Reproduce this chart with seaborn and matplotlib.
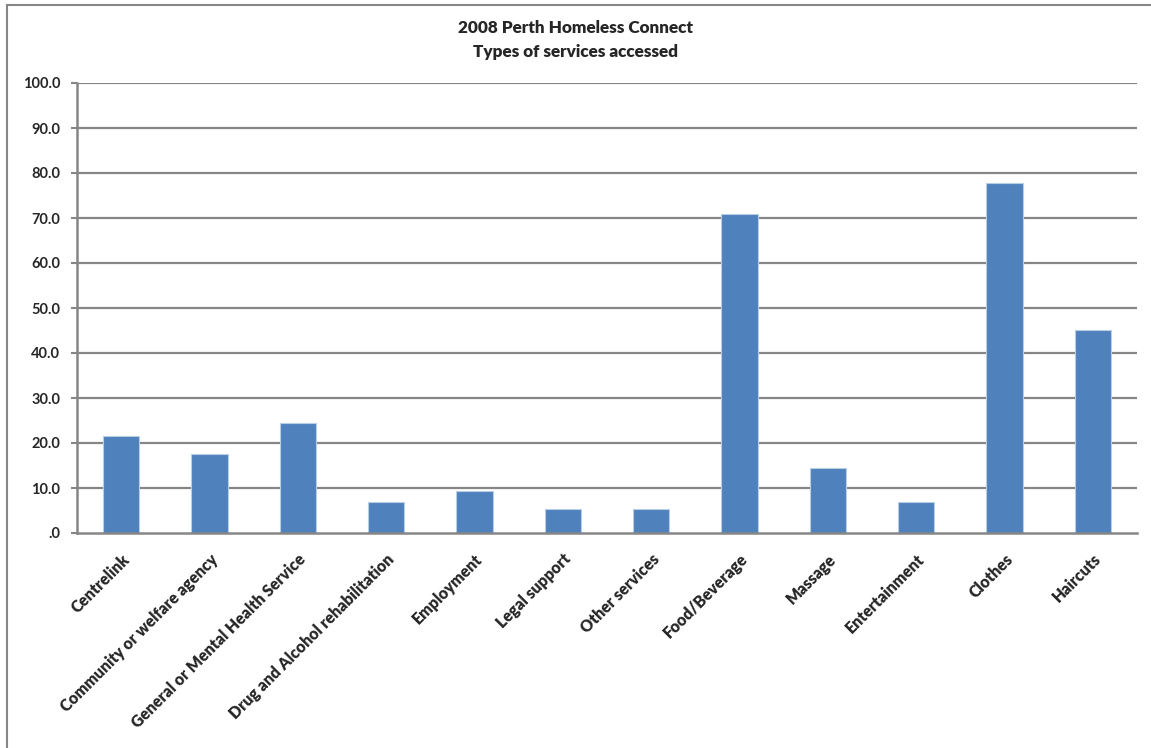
import matplotlib
matplotlib.use("Agg")
import matplotlib.pyplot as plt
import matplotlib.transforms as mtransforms
import seaborn as sns
import pandas as pd
from matplotlib.patches import Rectangle

categories = ["Centrelink", "Community or welfare agency", "General or Mental Health Service",
              "Drug and Alcohol rehabilitation", "Employment", "Legal support", "Other services",
              "Food/Beverage", "Massage", "Entertainment", "Clothes", "Haircuts"]
values = [21.5, 17.6, 24.4, 6.8, 9.3, 5.3, 5.3, 70.9, 14.4, 6.8, 77.7, 45.1]
yticks = [0, 10, 20, 30, 40, 50, 60, 70, 80, 90, 100]
ytick_labels = [".0", "10.0", "20.0", "30.0", "40.0", "50.0", "60.0", "70.0", "80.0", "90.0", "100.0"]
title = "2008 Perth Homeless Connect\nTypes of services accessed"

sns.set_theme(style="white")
plt.rcParams['font.family'] = ['Lato', 'DejaVu Sans']

df = pd.DataFrame({"cat": categories, "val": values})

fig = plt.figure(figsize=(11.51, 7.48), dpi=100)
ax = fig.add_axes([77/1151, 1-533/748, 1060/1151, 450/748])

sns.barplot(data=df, x="cat", y="val", color="#4F81BD", saturation=1, width=0.41,
            edgecolor="#B9CDE5", linewidth=0.8, ax=ax)

ax.set_ylim(0, 100)
ax.set_xlim(-0.5, len(categories) - 0.5)
ax.set_yticks(yticks)
ax.set_yticklabels(ytick_labels, fontsize=10.5, fontweight="bold")
for y in yticks[1:]:
    ax.axhline(y, color="#868686", linewidth=1.6, zorder=0)
ax.set_xticks(range(len(categories)))
ax.set_xticklabels(categories, rotation=45, ha="right", rotation_mode="anchor",
                   fontsize=11.4, fontweight="heavy")
offset = mtransforms.ScaledTranslation(-16/100, 0, fig.dpi_scale_trans)
for lab in ax.get_xticklabels():
    lab.set_transform(lab.get_transform() + offset)
ax.tick_params(axis="y", length=4, width=1.5, color="#868686", left=True, pad=8)
ax.tick_params(axis="x", length=0, pad=13)
ax.set_xlabel("")
ax.set_ylabel("")
for s in ["top", "right"]:
    ax.spines[s].set_visible(False)
for s in ["left", "bottom"]:
    ax.spines[s].set_color("#868686")
    ax.spines[s].set_linewidth(1.8)

fig.text(0.5, 1-40/748, title, ha="center", va="center", fontsize=12.3,
         fontweight="heavy", linespacing=1.6)

fig.patches.append(Rectangle((7/1151, -0.01), 1.02, 1-5/748 + 0.01, transform=fig.transFigure,
                             fill=False, edgecolor="#868686", linewidth=1.5))

fig.savefig("out.png", dpi=100)
